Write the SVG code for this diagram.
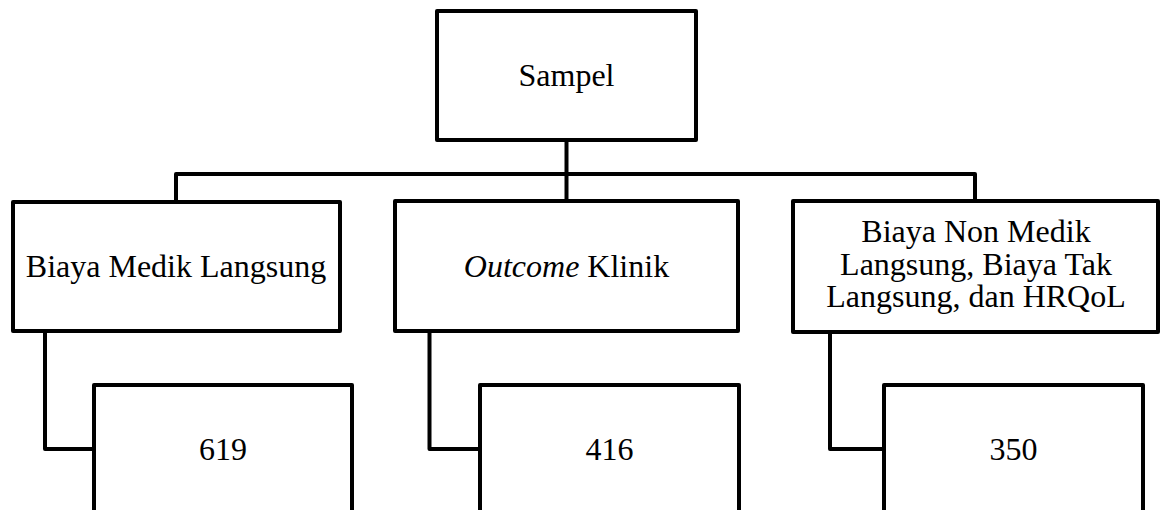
<svg xmlns="http://www.w3.org/2000/svg" width="1161" height="510" viewBox="0 0 1161 510">
<style>
.box{fill:#fff;stroke:#000;stroke-width:4;stroke-linejoin:round}
.ln{fill:none;stroke:#000;stroke-width:4;stroke-linejoin:round}
text{font-family:"Liberation Serif","Times New Roman",serif;font-size:32px;fill:#000;text-anchor:middle}
</style>
<rect width="1161" height="510" fill="#fff"/>
<g id="connectors">
<path class="ln" d="M566.5 140 V201"/>
<path class="ln" d="M176 201 V174 H975 V201"/>
<path class="ln" d="M45 331 V449 H94"/>
<path class="ln" d="M429.5 331 V449 H480"/>
<path class="ln" d="M830 332 V449 H884"/>
</g>
<g id="sampel">
<rect class="box" x="437" y="11" width="259" height="129"/>
<text x="566.5" y="86">Sampel</text>
</g>
<g id="biaya-medik">
<rect class="box" x="13" y="202" width="327" height="129"/>
<text x="176" y="277">Biaya Medik Langsung</text>
</g>
<g id="outcome">
<rect class="box" x="395" y="201" width="343" height="130"/>
<text x="566.5" y="277"><tspan font-style="italic">Outcome</tspan> Klinik</text>
</g>
<g id="non-medik">
<rect class="box" x="793" y="201" width="365" height="131"/>
<text x="976" y="242"><tspan x="976" y="242">Biaya Non Medik</tspan><tspan x="976" y="275">Langsung, Biaya Tak</tspan><tspan x="976" y="307">Langsung, dan HRQoL</tspan></text>
</g>
<g id="n619">
<rect class="box" x="94" y="385" width="258" height="140"/>
<text x="223" y="460">619</text>
</g>
<g id="n416">
<rect class="box" x="480" y="385" width="259" height="140"/>
<text x="609.5" y="460">416</text>
</g>
<g id="n350">
<rect class="box" x="884" y="385" width="259" height="140"/>
<text x="1013.5" y="460">350</text>
</g>
</svg>
